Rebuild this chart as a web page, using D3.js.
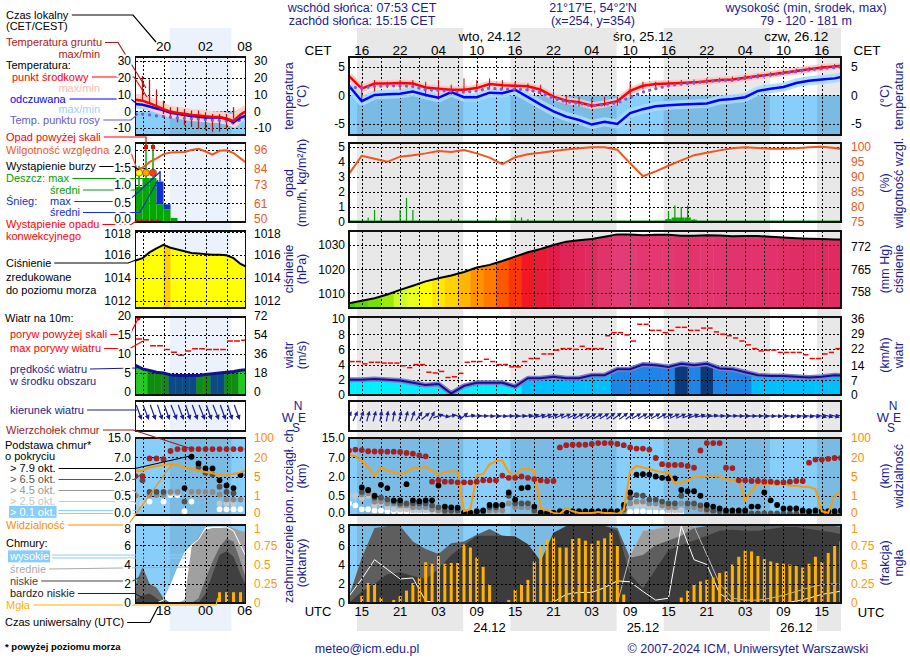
<!DOCTYPE html>
<html>
<head>
<meta charset="utf-8">
<title>Meteogram</title>
<script src="https://cdn.jsdelivr.net/npm/d3@7"></script>
<style>
  body { margin: 0; background: #fff; }
  svg text { font-family: "Liberation Sans", Arial, Helvetica, sans-serif; }
  .dot { stroke: #000; stroke-width: 1; stroke-dasharray: 2,2; shape-rendering: crispEdges; }
  .box { fill: none; stroke: #111; stroke-width: 1.2; shape-rendering: crispEdges; }
</style>
</head>
<body>
<svg id="chart" width="910" height="660"></svg>
<script>
"use strict";

// ---------- time axis (hours since 23.12 13:00 UTC = 14:00 CET) ----------
var nights = [[1.25, 17.88], [25.25, 41.88], [49.25, 65.88], [73.25, 77]];
var labelHours = [2, 8, 14, 20, 26, 32, 38, 44, 50, 56, 62, 68, 74];
var cetLabels = ["16","22","04","10","16","22","04","10","16","22","04","10","16"];
var utcLabels = ["15","21","03","09","15","21","03","09","15","21","03","09","15"];
var dayHours = [22, 46, 70];
var dayNames = ["wto, 24.12", "śro, 25.12", "czw, 26.12"];
var dayDates = ["24.12", "25.12", "26.12"];

// ---------- main series, every 2 h ----------
var tempMid = [3.4,1.2,2.1,2.1,2.2,2.1,1.4,1.2,1.0,1.0, 1.3,2.0,1.8,1.7,1.6,1.0,-0.2,-0.9,-1.2,-1.8,
  -1.5,-1.0,0.8,1.7,2.0,2.1,2.2,2.3,2.5,2.7, 2.8,3.1,3.4,3.7,4.0,4.3,4.6,4.9,5.1,5.3];
var tempFeel = [1.7,-1.0,0.1,0.2,0.3,0.7,0.1,-0.4,0.6,-0.3, -0.3,0.5,0.4,1.0,-0.3,-1.6,-2.8,-3.7,-4.3,-5.1,
  -4.6,-5.0,-3.1,-2.4,-1.9,-1.7,-1.6,-1.5,-1.4,-0.8, -0.6,-0.3,0.8,1.2,1.5,2.2,2.6,2.8,3.0,3.5];
var dewPoint = [1.5,1.3,1.6,1.7,1.7,1.6,1.0,0.9,0.7,0.6, 0.8,1.3,1.1,1.1,1.0,0.5,-0.5,-1.1,-1.4,-1.8,
  -1.6,-1.3,-0.3,0.6,1.2,1.7,2.0,2.2,2.4,2.6, 2.7,3.0,3.3,3.6,3.9,4.2,4.5,4.7,4.9,5.1];
var groundMax = [3.6,2.4,2.7,2.4,2.7,2.7,2.4,2.7,1.9,3.0, 2.7,3.0,2.7,2.4,2.1,1.9,0.7,0.1,-0.2,-0.5,
  -0.2,-0.2,2.4,2.4,2.4,2.6,2.7,2.8,3.0,3.1, 3.3,3.6,3.8,4.1,4.4,4.7,5.0,5.3,5.5,5.7];
var groundMin = [2.5,-0.75,0.7,1.3,1.0,1.3,-0.2,-0.75,0.1,1.1, 1.1,1.4,1.1,1.0,0.7,0.1,-1.0,-1.6,-1.9,-2.2,
  -1.9,-1.8,0.1,1.1,1.4,1.7,1.8,1.9,2.1,2.3, 2.4,2.7,3.0,3.3,3.6,3.9,4.2,4.5,4.7,4.9];
var humidity = [91,97,96,95,96.7,97.2,97.8,98.6,98.3,98.9, 97.8,96.4,94.2,96.5,97.5,98,98.6,99.1,99.5,99.8,
  99.8,99,94.5,90.2,91.8,93.7,95.5,97.2,98,98.8, 99.5,99.8,99.6,99.3,99.3,99.5,99.8,100,99.6,99];
var pressure = [1006,1007,1008,1009.6,1011.5,1013.2,1015,1016.3,1017.4,1018.9, 1020.7,1021.8,1023.4,1025.2,1027,1028.4,1030,1031.4,1032,1032.5,
  1033.4,1034.4,1034.4,1034,1034.2,1034.2,1033.8,1033.8,1034,1033.9, 1033.6,1033.7,1033.7,1033.4,1033.1,1032.8,1032.6,1032.5,1032.3,1032.2];
var windSpeed = [2.0,2.0,2.1,2.0,1.9,1.6,1.3,1.45,0.2,1.2, 1.6,1.6,1.6,1.1,2.2,2.2,2.4,2.2,2.2,2.6,
  2.6,3.4,3.4,4.0,3.9,3.7,4.1,3.9,4.1,3.5, 3.4,3.0,2.6,2.5,2.5,2.4,2.3,2.4,2.6,2.5];
var cloudHigh = [0.7,2.5,4.5,3.5,2.5,2.6,0.2,0,0,0, 0,0,0,0,0,0,0.1,0.9,1.1,1.1,
  1.6,2.3,2.2,1.2,0.3,0.5,8,4.5,4.0,1.0, 0.1,0,0,0,0,0.2,0.5,0.9,1.1,1.4];
var cloudMid = [0,0,0,0,0,0,0,0,0,0, 0,0,0,0,0,0,0,0,0,0,
  0,0,5.0,7.5,7.7,8,8,8,5,2, 0.5,0.3,0.3,0.5,0.8,1.2,1.6,1.9,2.0,1.8];
var cloudLow = [0.7,4.7,7.8,8,8,6.4,5.6,5.1,6.2,6.4, 7.1,7.7,7.0,6.9,6.1,4.35,7.0,7.5,7.8,8,
  8,7.8,4.7,5.0,6.0,6.5,7.0,7.8,8,8, 8,8,8,8,8,8,8,8,8,7.8];
var cloudVeryLow = [0,1.2,2.0,3.0,3.2,2.8,2.5,3.5,5.0,6.0, 7.0,7.0,7.0,6.9,6.1,4.35,7.3,8,8,8,
  8,7.5,3.0,1.5,3.5,5.5,6.0,6.5,7.0,7.5, 7.6,7.5,7.5,7.7,7.9,7.9,7.7,7.5,7.3,7.0];

// ---------- main series, hourly ----------
var precipMax = [[3,0.3],[4,0.8],[5,0.3],[8,0.8],[9,1.6],[10,0.8],[11,0.1],[16,0.2],[23,0.3],[26,0.3],[27,0.3],[28,0.2],
  [50,0.7],[51,1.1],[52,1.0],[53,1.1],[54,0.2],[70,0.08],[71,0.1],[72,0.08]];
var precipMean = [[50,0.2],[51,0.3],[52,0.3],[53,0.3],[54,0.15],[55,0.05],[70,0.05],[71,0.06],[72,0.05]];
var gusts = [4.4,4.4,4.1,4.3,4.3,4.2,4.2,4.2,3.85,3.6, 4.0,4.0,3.0,2.9,3.1,2.3,2.4,2.85,4.3,4.4,
  4.4,4.7,4.4,4.0,4.0,3.7,3.7,4.4,4.8,4.8, 5.4,5.4,5.9,6.1,6.1,6.0,6.4,6.1,6.1,6.1,
  7.8,8.2,8.2,7.9,7.1,9.3,9.3,8.5,8.5,8.2, 8.5,8.9,8.9,8.5,8.5,8.8,8.8,8.3,8.0,7.8,
  7.5,7.1,6.6,6.1,5.8,5.9,5.9,5.6,5.6,5.6, 5.6,5.3,4.8,4.8,5.4,5.6,6.1];
var windDir = [210,205,200,195,195,190,190,190,195,195, 200,215,230,210,250,280,260,290,230,260,
  265,270,275,275,275,270,270,265,260,255, 255,250,250,245,245,245,240,240,240,240,
  240,235,235,235,235,240,240,240,240,240, 245,245,245,250,250,255,260,260,265,265,
  265,270,270,270,270,275,275,275,275,280, 280,280,280,280,285,285,285,285];
var cloudTop = [9.8,10.2,10.0,9.5,9.4,9.4,9.3,9.3,9.2,8.8, 8.5,7.8,7.4,1.6,1.7,1.6,1.6,1.55,1.55,1.55,
  1.6,1.7,1.7,1.7,2.25,1.9,1.9,2.0,1.9,1.8, 1.7,1.65,1.65,11.1,12.0,12.2,12.2,12.2,12.5,12.9,
  12.9,12.9,12.5,12.0,11.1,10.6,10.6,10.2,6.8,5.2, 5.0,5.0,5.0,4.75,4.3,9.8,12.9,12.9,12.9,4.3,
  4.2,1.7,1.7,1.65,1.65,1.6,1.6,1.55,1.55,1.6, 1.65,1.65,5.6,6.4,6.4,6.6,6.8,6.8];
var baseOkt79 = [null,null,1.15,0.95,0.5,1.35,1.1,0.38,0.38,1.4, 0.38,0.36,0.38,0.38,1.3,0.22,0.2,0.19,0.06,0.06,
  0.1,0.12,0.26,0.26,0.26,0.76,0.4,1.1,1.15,0.22, 0.06,0.06,0.06,0.1,0.1,0.1,0.1,0.1,0.1,0.1,
  0.1,0.1,0.1,0.26,0.76,2.5,2.6,2.5,2.0,1.9, 1.85,1.85,0.95,0.85,0.85,0.5,0.26,0.22,0.17,0.12,
  0.12,0.12,0.12,0.22,0.22,0.76,0.38,0.26,0.17,0.17, 0.17,0.12,0.1,0.12,0.1,0.1,0.1,0.12];
var baseOkt65 = [null,null,0.8,0.9,0.45,0.45,0.4,0.35,0.3,0.3, 0.3,0.3,0.3,0.25,0.2,0.12,0.12,0.12,0.05,0.05,
  0.07,0.1,0.2,0.2,0.25,0.5,0.3,0.3,0.3,0.12, 0.05,0.05,0.05,0.05,0.05,0.05,0.05,0.05,0.05,0.05,
  0.05,0.05,0.05,0.15,0.45,0.55,0.5,0.4,0.4,0.35, 0.3,0.3,0.5,0.3,0.3,0.25,0.15,0.12,0.1,0.04,
  0.04,0.04,0.04,0.04,0.04,0.04,0.04,0.04,0.04,0.04, 0.04,0.04,0.04,0.04,0.04,0.04,0.04,0.04];
var baseOkt45 = [null,null,0.6,0.7,0.35,0.35,0.3,0.3,0.25,0.25, 0.2,0.2,0.2,0.15,0.12,0.08,0.08,0.08,0.03,0.03,
  0.03,0.03,0.12,0.12,0.12,0.3,0.2,0.2,0.2,0.06, null,null,null,null,null,null,null,null,null,null,
  null,null,null,0.1,0.3,0.35,0.35,0.3,0.3,0.25, 0.2,0.2,0.3,0.2,0.2,0.15,0.1,0.08,null,null,
  null,null,null,null,null,null,null,null,null,null, null,null,null,null,null,null,null,null];
var baseOkt25 = [0.55,0.5,0.45,0.5,0.25,0.3,0.2,0.15,0.15,0.15, 0.12,0.12,0.12,0.1,0.08,null,null,null,null,null,
  null,null,null,null,null,null,null,null,null,null, null,null,null,null,null,null,null,null,null,null,
  null,null,null,0.06,0.25,0.25,0.25,0.2,0.2,0.2, 0.12,0.12,0.12,null,null,null,null,null,null,null,
  null,null,null,null,null,null,null,null,null,null, null,null,null,null,null,null,null,null];
var baseOkt01 = [0.3,0.25,0.15,0.15,0.12,0.12,0.1,0.1,0.08,0.08, 0.06,0.06,0.06,0.05,0.04,null,null,null,null,null,
  null,null,null,null,null,null,null,null,null,null, null,null,null,null,null,null,null,null,null,null,
  null,null,null,0.03,0.08,0.1,0.1,0.08,0.08,0.06, 0.05,0.05,0.05,null,null,null,null,null,null,null,
  null,null,null,null,null,null,null,null,null,null, null,null,null,null,null,null,null,null];
var visibility = [31,24,17,12,5.8,12,9.5,8.3,7,8.3, 12,11.5,12.5,9.5,6.5,8.3,9,8.8,0.2,0.3,
  5.8,7,14.5,17,17.5,8.3,5,10.8,10.8,9.5, 0.34,0.25,0.11,0.06,0.34,0.19,0.11,0.11,0.11,0.15,
  0.11,0.11,0.06,0.25,9.5,13.3,12,10.8,9.5,8.3, 8.3,3.5,3.8,4.2,4.9,4.9,5.0,5.8,4.9,4.5,
  4.2,4.5,0.75,2.0,3.6,3.5,3.5,3.3,3.5,3.1, 3.1,2.8,2.8,2.4,0.19,0.11,1.0,2.0];
var fog = [[2,0.09],[3,0.26],[4,0.25],[5,0.07],[7,0.04],[8,0.09],[9,0.16],[10,0.26],[11,0.33],[12,0.53],[13,0.51],
  [14,0.61],[15,0.51],[16,0.52],[17,0.52],[18,0.76],[19,0.72],[20,0.59],[21,0.47],[22,0.24],[25,0.04],[26,0.17],
  [27,0.24],[28,0.3],[29,0.54],[30,0.74],[31,0.83],[32,0.85],[33,0.72],[34,0.72],[35,0.83],[36,0.84],[37,0.81],
  [38,0.77],[39,0.81],[40,0.84],[41,0.91],[42,0.74],[43,0.11],[52,0.07],[53,0.16],[54,0.24],[55,0.28],[56,0.3],
  [57,0.33],[58,0.39],[59,0.41],[60,0.5],[61,0.6],[62,0.68],[63,0.67],[64,0.61],[65,0.57],[66,0.54],[67,0.52],
  [68,0.51],[69,0.5],[70,0.48],[71,0.46],[72,0.51],[73,0.6],[74,0.53],[75,0.65],[76,0.74],[77,0.8]];

// ---------- legend sample (hours since 16:00 local) ----------
var miniNight = [4.9, 13.7];
var miniTopLabels = ["20", "02", "08"];
var miniBottomLabels = ["18", "00", "06"];
var miniLabelHours = [4, 10, 15.6];
var miniTemp = [6.9,6.3,4.8,3.0,1.2,-0.2,-1.0,-1.5,-2.2,-2.5,-3.0,-3.4,-3.5,-4.5,-5.8,-2.0,0.5];
var miniFeel = [4.3,3.9,2.8,1.6,0.6,-0.9,-1.5,-2.2,-2.9,-3.3,-3.8,-3.6,-3.8,-4.5,-6.6,-3.8,-2.5];
var miniDew = [-1.6,-1.8,-2.2,-2.8,-3.1,-3.5,-4.0,-4.2,-4.5,-4.8,-5.0,-5.3,-5.5,-5.8,-7.2,-5.0,-4.5];
var miniGround = [[1,21,6.3],[2,19,4.3],[3,13,2.4],[4,6.3,-1.6],[5,2.4,-4.5],[6,2.4,-6.5],[7,1.4,-8.4],
  [8,0.4,-9.4],[9,0.4,-10.4],[10,-0.6,-11.4],[11,-1.6,-12.3],[12,-1.6,-12.3],[13,-1.6,-10.4],[14,2.4,-4.5]];
var miniRH = [83,84.3,88,90.5,93.3,94.3,94.5,94.7,96,96.8,95,93,95.5,95.8,94,90.5,87];
var miniRain = [[0,0.95],[1,1.2],[2,1.2],[3,0.45],[4,0.3],[5,0.06]];
var miniRainMax = [[0,1.55],[1,2.4],[2,2.4]];
var miniSnow = [[3,0.45,1.1],[4,0.3,0.45]];
var miniSnowMax = [[3,1.1,1.4]];
var miniOverScale = [1, 2];
var miniStorm = [0, 1, 2];
var miniConvective = [0, 3.6];
var miniPres = [1015.5,1015.7,1016.2,1016.55,1016.85,1016.6,1016.45,1016.3,1016.15,1016.1,1016.05,1016.0,1016.0,1015.95,1015.7,1015.2,1014.9];
var miniWind = [6.9,6.0,5.6,5.1,4.9,4.4,4.25,4.25,4.25,4.25,4.5,4.7,4.9,5.1,5.3,5.6,5.8];
var miniWindClass = [0,0,1,1,1,2,2,2,2,1,1,2,2,1,1,0,0];
var miniGust = [13.9,13.7,12.1,12.1,11.1,10.4,9.6,10.7,11.3,11.3,11.1,11.1,11.1,13.4,13.4,13.6];
var miniGustOver = [0];
var miniDir = [340,338,340,342,340,338,340,342,340,338,340,338,340,342,340];
var miniTop = [2.1,2.1,6.7,6.7,6.5,9.6,10.4,10.4,10.4,10.4,10.4,10.4,10.4,10.4,10.4,10.4,10.4];
var miniBase79 = [[7,1.1],[8,7.2],[9,5.4],[10,4.1],[11,4.1],[12,1.7],[13,1.3],[14,1.1],[15,2.4],[16,2.4]];
var miniBase65 = [[1,1.7],[2,0.8],[3,0.8],[4,0.8],[7,0.35],[9,4.5],[10,3.0],[11,2.5],[12,1.2],[13,0.8],[14,0.7]];
var miniBase45 = [[0,0.5],[2,0.55],[3,0.55],[4,0.55],[5,0.8],[6,0.8],[8,0.8],[9,0.8],[10,0.8],[11,0.8],[12,0.6],[13,0.4],[14,0.4],[15,0.4]];
var miniBase25 = [[0,0.4],[1,0.3],[5,0.7],[6,0.7],[8,0.75],[9,0.75],[10,0.8],[12,0.3],[13,0.3],[14,0.3]];
var miniBase01 = [[1,0.3],[2,0.35],[4,0.35],[5,0.55],[6,0.55],[7,0.1],[8,0.35],[12,0.15],[13,0.15],[14,0.15],[15,0.15]];
var miniVis = [9.5,9.5,12,13,14,15,14,12,10.8,9.5,8.5,7.5,6.1,6.1,7,8.2,10.3];
var miniHigh = [0,0,0,0,0.3,1.8,3.6,5.2,6.0,6.6,7.8,7.9,7.9,7.9,7.5,6.0,4.5];
var miniMidC = [0,0,0,0,0,0,0,0.3,5.8,7.0,7.6,7.8,7.8,7.9,7.8,7.5,7.3];
var miniLowC = [1.9,3.8,2.0,1.6,0.5,0,0,0,0,0.5,2.5,4.3,5.8,6.7,6.4,4.3,2.0];
var miniVeryLowC = [0.3,0.8,1.0,0.5,0,0,0,0,0,0,1.0,3.0,5.0,5.4,4.8,3.0,1.5];
var miniFog = [[12,0.14],[13,0.14],[14,0.14],[15,0.14]];

// ---------- layout ----------
var svg = d3.select("#chart");
var defs = svg.append("defs");
var NAVY = "#1c1c90";
var SKY = "#87cefa";
var X0 = 349, X1 = 841, M0 = 135.5, M1 = 245.5;
var rows = { temp: [57,135], prec: [143,222], pres: [231,308], wind: [317,395], dir: [401,431], cbase: [438,515], ccov: [525,603] };

var x = d3.scaleLinear().domain([0, 77]).range([X0, X1]);
var mx = d3.scaleLinear().domain([0, 15.71]).range([M0, M1]);
var hours2 = d3.range(0, 79, 2);
var hours1 = d3.range(0, 78);
var hoursM = d3.range(0, 17);
var gridMain = d3.range(2, 77, 3);
var gridMini = [1, 4, 7, 10, 13];

var yT = d3.scaleLinear().domain([-6.93, 6.75]).range([135, 57]);
var yP = d3.scaleLinear().domain([0, 5.25]).range([222, 143]);
var yRH = d3.scaleLinear().domain([75, 101.25]).range([222, 143]);
var yPr = d3.scaleLinear().domain([1004.0, 1035.8]).range([308, 231]);
var yPrMm = d3.scaleLinear().domain([1004.0 / 1.33322, 1035.8 / 1.33322]).range([308, 231]);
var yW = d3.scaleLinear().domain([0, 10.26]).range([395, 317]);
var yWkm = d3.scaleLinear().domain([0, 10.26 * 3.6]).range([395, 317]);
var cbRange = [515, 495.75, 476.5, 457.25, 438];
var yCB = d3.scaleLinear().domain([0, 0.5, 2, 7, 15]).range(cbRange);
var yVis = d3.scaleLinear().domain([0, 1, 5, 20, 100]).range(cbRange).clamp(true);
var yCC = d3.scaleLinear().domain([0, 8]).range([603, 526]);
var yFog = d3.scaleLinear().domain([0, 1]).range([603, 526]);

var myT = d3.scaleLinear().domain([-10, 30]).range([128, 61]);
var myP = d3.scaleLinear().domain([0, 2]).range([220, 150]);
var myRH = d3.scaleLinear().domain([50, 96]).range([220, 150]);
var myPr = d3.scaleLinear().domain([1012, 1018]).range([300.7, 231.7]);
var myW = d3.scaleLinear().domain([0, 20]).range([391.5, 316]);
var myWkm = d3.scaleLinear().domain([0, 72]).range([391.5, 316]);

var presColor = d3.scaleLinear()
  .domain([1005, 1009, 1012, 1015, 1018, 1021, 1024, 1027, 1030, 1033, 1035])
  .range(["#28c800","#8fe600","#dcff30","#ffff00","#ffc800","#ff8c00","#ff4a00","#f01824","#e21c48","#e02e68","#e4407a"]);
var windColor = d3.scaleThreshold().domain([2.15, 3.0, 4.05]).range(["#00f0ff","#00bfff","#1d85e6","#0a3b78"]);
var miniWindPalette = ["#20c820", "#108c10", "#0c4a86"];

// ---------- helpers ----------
var clipN = 0;
function clip(x0, x1, y0, y1) {
  var id = "clip" + (clipN++);
  defs.append("clipPath").attr("id", id).append("rect")
    .attr("x", x0).attr("y", y0).attr("width", x1 - x0).attr("height", y1 - y0);
  return "url(#" + id + ")";
}
function pathOf(xs, hrs, ys, vals) {
  return d3.line().defined(function(d) { return d != null; })
    .x(function(d, i) { return xs(hrs[i]); }).y(function(d) { return ys(d); })(vals);
}
function areaOf(xs, hrs, ys, vals, base) {
  return d3.area().x(function(d, i) { return xs(hrs[i]); }).y0(base).y1(function(d) { return ys(d); })(vals);
}
function sky(g, xs, x0, x1, y0, y1, nightList) {
  g.append("rect").attr("x", x0).attr("y", y0).attr("width", x1 - x0).attr("height", y1 - y0).attr("fill", SKY);
  nightList.forEach(function(n) {
    var a = Math.max(xs(n[0]), x0), b = Math.min(xs(n[1]), x1);
    g.append("rect").attr("x", a).attr("y", y0).attr("width", b - a).attr("height", y1 - y0)
      .attr("fill", "#000").attr("opacity", 0.09);
  });
}
function grid(g, xs, hrs, row, ys, vals, x0, x1) {
  hrs.forEach(function(h) {
    g.append("line").attr("class", "dot").attr("x1", Math.round(xs(h)) + 0.5).attr("x2", Math.round(xs(h)) + 0.5)
      .attr("y1", row[0]).attr("y2", row[1]);
  });
  vals.forEach(function(v) {
    g.append("line").attr("class", "dot").attr("x1", x0).attr("x2", x1)
      .attr("y1", Math.round(ys(v)) + 0.5).attr("y2", Math.round(ys(v)) + 0.5);
  });
}
function box(x0, x1, row) {
  svg.append("rect").attr("class", "box").attr("x", x0).attr("y", row[0]).attr("width", x1 - x0).attr("height", row[1] - row[0]);
}
// shift: optional {value: px} nudge for labels sitting on a panel edge
function axis(scale, side, xpos, values, color, fmt, halo, shift) {
  var ax = (side === "L" ? d3.axisLeft(scale) : d3.axisRight(scale))
    .tickValues(values).tickSize(0).tickPadding(0)
    .tickFormat(fmt || function(d) { return String(d); });
  var a = svg.append("g").attr("transform", "translate(" + xpos + ",0)").call(ax);
  a.attr("font-size", 12).attr("font-family", null);
  a.select(".domain").remove();
  a.selectAll(".tick line").remove();
  var t = a.selectAll("text").attr("fill", color || "#000");
  if (shift) t.attr("y", function(d) { return shift[d] || 0; });
  if (halo) t.attr("stroke", "#fff").attr("stroke-width", 4).attr("stroke-linejoin", "round").attr("paint-order", "stroke");
}
function dotsArr(g, xs, hrs, ys, vals, fill, r) {
  vals.forEach(function(v, i) {
    if (v == null) return;
    g.append("circle").attr("cx", xs(hrs[i])).attr("cy", ys(v)).attr("r", r).attr("fill", fill);
  });
}
function dotsPairs(g, xs, ys, pairs, fill, r) {
  pairs.forEach(function(p) {
    g.append("circle").attr("cx", xs(p[0])).attr("cy", ys(p[1])).attr("r", r).attr("fill", fill);
  });
}
function arrow(g, cx, cy, from, len, head, color) {
  var a = (from + 180) * Math.PI / 180;
  var ux = Math.sin(a), uy = -Math.cos(a);
  var x1 = cx - ux * len / 2, y1 = cy - uy * len / 2, x2 = cx + ux * len / 2, y2 = cy + uy * len / 2;
  g.append("line").attr("x1", x1).attr("y1", y1).attr("x2", x2 - ux * head * 0.6).attr("y2", y2 - uy * head * 0.6)
    .attr("stroke", color).attr("stroke-width", 1.2);
  var bx = x2 - ux * head, by = y2 - uy * head, w = head * 0.5;
  g.append("path").attr("d", "M" + x2 + "," + y2 + "L" + (bx - uy * w) + "," + (by + ux * w) + "L" + (bx + uy * w) + "," + (by - ux * w) + "Z")
    .attr("fill", color);
}
function text(t, xp, yp, opt) {
  opt = opt || {};
  return svg.append("text").attr("x", xp).attr("y", yp).text(t)
    .attr("font-size", opt.size || 12).attr("fill", opt.color || "#000")
    .attr("text-anchor", opt.anchor || "start")
    .attr("font-weight", opt.weight || null)
    .attr("dy", opt.dy == null ? "0.35em" : opt.dy);
}
function vtext(t, xp, yp, color, anchor, clipPath) {
  var el = svg.append("text").attr("transform", "translate(" + xp + "," + yp + ") rotate(-90)")
    .attr("text-anchor", anchor || "middle").attr("dominant-baseline", "central")
    .attr("font-size", 12.5).attr("fill", color).text(t);
  if (clipPath) {
    var g = svg.append("g").attr("clip-path", clipPath);
    g.node().appendChild(el.node());
  }
}

// ---------- background night bands ----------
var bg = svg.append("g");
nights.forEach(function(n) {
  bg.append("rect").attr("x", x(n[0])).attr("y", 28).attr("width", x(n[1]) - x(n[0])).attr("height", 603).attr("fill", "#e8e8e8");
});
bg.append("rect").attr("x", mx(miniNight[0])).attr("y", 28).attr("width", mx(miniNight[1]) - mx(miniNight[0]))
  .attr("height", 603).attr("fill", "#ebf2fc");

// =================== MAIN PANELS ===================
// temperature
var gT = svg.append("g").attr("clip-path", clip(X0, X1, 57, 135));
sky(gT, x, X0, X1, yT(0), 135, nights);
grid(gT, x, gridMain, rows.temp, yT, [5, 0, -5], X0, X1);
gT.append("path").attr("d", pathOf(x, hours2, yT, tempFeel)).attr("fill", "none").attr("stroke", "#a8dcff").attr("stroke-width", 9).attr("stroke-linejoin", "round").attr("opacity", 0.9);
gT.append("path").attr("d", pathOf(x, hours2, yT, tempMid)).attr("fill", "none").attr("stroke", "#ffc6c6").attr("stroke-width", 7).attr("stroke-linejoin", "round").attr("opacity", 0.9);
hours2.forEach(function(h, i) {
  gT.append("line").attr("x1", x(h)).attr("x2", x(h)).attr("y1", yT(groundMax[i])).attr("y2", yT(groundMin[i]))
    .attr("stroke", "#cc0000").attr("stroke-width", 1);
});
gT.append("path").attr("d", pathOf(x, hours2, yT, tempFeel)).attr("fill", "none").attr("stroke", "#0000ff").attr("stroke-width", 2.5);
gT.append("path").attr("d", pathOf(x, hours2, yT, tempMid)).attr("fill", "none").attr("stroke", "#ff0000").attr("stroke-width", 2.5);
gT.append("path").attr("d", pathOf(x, hours2, yT, dewPoint)).attr("fill", "none").attr("stroke", "#7060e0")
  .attr("stroke-width", 3.2).attr("stroke-linecap", "round").attr("stroke-dasharray", "0.1,6.29");
box(X0, X1, rows.temp);

// precipitation + humidity
var gP = svg.append("g").attr("clip-path", clip(X0, X1, 143, 222));
grid(gP, x, gridMain, rows.prec, yP, [1, 2, 3, 4, 5], X0, X1);
precipMean.forEach(function(p) {
  gP.append("rect").attr("x", x(p[0] - 0.5)).attr("width", x(1) - x(0)).attr("y", yP(p[1])).attr("height", yP(0) - yP(p[1])).attr("fill", "#00b400");
});
precipMax.forEach(function(p) {
  gP.append("line").attr("x1", x(p[0])).attr("x2", x(p[0])).attr("y1", yP(0)).attr("y2", yP(p[1])).attr("stroke", "#00a000").attr("stroke-width", 1.2);
});
gP.append("line").attr("x1", X0).attr("x2", X1).attr("y1", 221).attr("y2", 221).attr("stroke", "#00a000").attr("stroke-width", 1);
gP.append("path").attr("d", pathOf(x, hours2, yRH, humidity)).attr("fill", "none").attr("stroke", "#f0561e").attr("stroke-width", 2);
box(X0, X1, rows.prec);

// pressure
var gPr = svg.append("g").attr("clip-path", clip(X0, X1, 231, 308));
defs.append("clipPath").attr("id", "prArea").append("path").attr("d", areaOf(x, hours2, yPr, pressure, 308));
var prCols = gPr.append("g").attr("clip-path", "url(#prArea)");
pressure.forEach(function(v, i) {
  prCols.append("rect").attr("x", x(hours2[i] - 1)).attr("width", x(2) - x(0) + 0.4).attr("y", 231).attr("height", 77).attr("fill", presColor(v));
});
grid(gPr, x, gridMain, rows.pres, yPr, [1010, 1020, 1030], X0, X1);
gPr.append("path").attr("d", pathOf(x, hours2, yPr, pressure)).attr("fill", "none").attr("stroke", "#000").attr("stroke-width", 2);
box(X0, X1, rows.pres);

// wind speed + gusts
var gW = svg.append("g").attr("clip-path", clip(X0, X1, 317, 395));
defs.append("clipPath").attr("id", "wArea").append("path").attr("d", areaOf(x, hours2, yW, windSpeed, 395));
var wCols = gW.append("g").attr("clip-path", "url(#wArea)");
windSpeed.forEach(function(v, i) {
  wCols.append("rect").attr("x", x(hours2[i] - 1)).attr("width", x(2) - x(0) + 0.4).attr("y", 317).attr("height", 78).attr("fill", windColor(v));
});
grid(gW, x, gridMain, rows.wind, yW, [2, 4, 6, 8], X0, X1);
gW.append("path").attr("d", pathOf(x, hours2, yW, windSpeed)).attr("fill", "none").attr("stroke", "#7c7cd0").attr("stroke-width", 5).attr("stroke-linejoin", "round");
gW.append("path").attr("d", pathOf(x, hours2, yW, windSpeed)).attr("fill", "none").attr("stroke", "#12128c").attr("stroke-width", 2);
gusts.forEach(function(v, h) {
  gW.append("line").attr("x1", x(h) + 0.6).attr("x2", x(h + 1) - 0.6).attr("y1", yW(v)).attr("y2", yW(v)).attr("stroke", "#ff0000").attr("stroke-width", 1.5);
});
box(X0, X1, rows.wind);

// wind direction
var gD = svg.append("g").attr("clip-path", clip(X0, X1, 401, 431));
grid(gD, x, gridMain, rows.dir, null, [], X0, X1);
windDir.forEach(function(d, h) { arrow(gD, x(h), 416, d, 11, 4.5, "#1e1e9a"); });
box(X0, X1, rows.dir);

// cloud base / tops / visibility
var gB = svg.append("g").attr("clip-path", clip(X0, X1, 438, 515));
sky(gB, x, X0, X1, 438, 515, nights);
grid(gB, x, gridMain, rows.cbase, yCB, [0.5, 2, 7], X0, X1);
dotsArr(gB, x, hours1, yCB, baseOkt01, "#ffffff", 2.9);
dotsArr(gB, x, hours1, yCB, baseOkt25, "#c8c8c8", 2.9);
dotsArr(gB, x, hours1, yCB, baseOkt45, "#8c8c8c", 2.9);
dotsArr(gB, x, hours1, yCB, baseOkt65, "#505050", 2.9);
dotsArr(gB, x, hours1, yCB, baseOkt79, "#000000", 2.9);
gB.append("path").attr("d", pathOf(x, hours1, yVis, visibility)).attr("fill", "none").attr("stroke", "#ff9a00").attr("stroke-width", 2);
dotsArr(gB, x, hours1, yCB, cloudTop, "#a52222", 2.9);
box(X0, X1, rows.cbase);

// cloud cover + fog
var gC = svg.append("g").attr("clip-path", clip(X0, X1, 525, 603));
sky(gC, x, X0, X1, 525, 603, nights);
gC.append("path").attr("d", areaOf(x, hours2, yCC, cloudHigh, 603)).attr("fill", "#ffffff");
gC.append("path").attr("d", areaOf(x, hours2, yCC, cloudMid, 603)).attr("fill", "#9c9c9c");
gC.append("path").attr("d", areaOf(x, hours2, yCC, cloudLow, 603)).attr("fill", "#5e5e5e");
gC.append("path").attr("d", areaOf(x, hours2, yCC, cloudVeryLow, 603)).attr("fill", "#3c3c3c");
gC.append("path").attr("d", pathOf(x, hours2, yCC, cloudMid)).attr("fill", "none").attr("stroke", "#b8b8b8").attr("stroke-width", 1);
gC.append("path").attr("d", pathOf(x, hours2, yCC, cloudHigh)).attr("fill", "none").attr("stroke", "#ffffff").attr("stroke-width", 1);
fog.forEach(function(p) {
  gC.append("rect").attr("x", x(p[0]) - 1.5).attr("width", 3).attr("y", yFog(p[1])).attr("height", yFog(0) - yFog(p[1])).attr("fill", "#ffb000");
});
grid(gC, x, gridMain, rows.ccov, yCC, [2, 4, 6], X0, X1);
box(X0, X1, rows.ccov);

// main axes
var fmt1 = d3.format(".1f");
var lowEdge = { 0: -2.5 }, topEdgeCC = { 8: 3 }, topEdgeFog = { 1: 3 };
axis(yT, "L", 345, [5, 0, -5]);
axis(yT, "R", 851, [5, 0, -5]);
axis(yP, "L", 345, [0, 1, 2, 3, 4, 5]);
axis(yRH, "R", 851, [75, 80, 85, 90, 95, 100], "#f0561e");
axis(yPr, "L", 345, [1010, 1020, 1030]);
axis(yPrMm, "R", 851, [758, 765, 772]);
axis(yW, "L", 345, [0, 2, 4, 6, 8, 10]);
axis(yWkm, "R", 851, [0, 7, 14, 22, 29, 36]);
axis(yCB, "L", 345, [0, 0.5, 2, 7, 15], "#000", fmt1, false, lowEdge);
axis(yVis, "R", 851, [0, 1, 5, 20, 100], "#ff8c00", null, false, lowEdge);
axis(yCC, "L", 345, [0, 2, 4, 6, 8], "#000", null, false, topEdgeCC);
axis(yFog, "R", 851, [0, 0.25, 0.5, 0.75, 1], "#ff9a00", null, false, topEdgeFog);

// time labels
text("CET", 318, 50, { size: 13.5, anchor: "middle" });
text("CET", 867, 50, { size: 13.5, anchor: "middle" });
text("UTC", 318, 611, { size: 13, anchor: "middle" });
text("UTC", 871, 612, { size: 13, anchor: "middle" });
labelHours.forEach(function(h, i) {
  text(cetLabels[i], x(h), 50, { size: 13.5, anchor: "middle" });
  text(utcLabels[i], x(h), 611, { size: 13, anchor: "middle" });
});
dayHours.forEach(function(h, i) {
  var cx = Math.min(x(h), X1 - 32);
  text(dayNames[i], cx, 36, { size: 13.5, anchor: "middle" });
  text(dayDates[i], cx, 627, { size: 13, anchor: "middle" });
});

// header + footer
text("wschód słońca: 07:53 CET", 362, 8, { size: 12.5, anchor: "middle", color: NAVY });
text("zachód słońca: 15:15 CET", 362, 21, { size: 12.5, anchor: "middle", color: NAVY });
text("21°17'E, 54°2'N", 593, 8, { size: 12.5, anchor: "middle", color: NAVY });
text("(x=254,  y=354)", 593, 21, { size: 12.5, anchor: "middle", color: NAVY });
text("wysokość (min, środek, max)", 806, 8, { size: 12.5, anchor: "middle", color: NAVY });
text("79 - 120 - 181 m", 806, 21, { size: 12.5, anchor: "middle", color: NAVY });
text("meteo@icm.edu.pl", 367, 649, { size: 12.5, anchor: "middle", color: NAVY });
text("© 2007-2024 ICM, Uniwersytet Warszawski", 748, 649, { size: 12.5, anchor: "middle", color: NAVY });

// side titles
vtext("temperatura", 289, 96, NAVY); vtext("(°C)", 302, 96, NAVY);
vtext("opad", 289, 183, NAVY); vtext("(mm/h, kg/m²/h)", 302, 183, NAVY);
vtext("ciśnienie", 289, 269, NAVY); vtext("(hPa)", 302, 269, NAVY);
vtext("wiatr", 289, 355, NAVY); vtext("(m/s)", 302, 355, NAVY);
vtext("pion. rozciągł. chmur", 289, 523, NAVY, "start", clip(270, 296, 430, 640));
vtext("(km)", 302, 476, NAVY);
vtext("zachmurzenie", 289, 564, NAVY); vtext("(oktanty)", 302, 563, NAVY);
vtext("(°C)", 885, 96, NAVY); vtext("temperatura", 899, 96, NAVY);
vtext("(%)", 885, 183, NAVY); vtext("wilgotność wzgl.", 899, 183, NAVY);
vtext("(mm Hg)", 885, 269, NAVY); vtext("ciśnienie", 899, 269, NAVY);
vtext("(km/h)", 885, 355, NAVY); vtext("wiatr", 899, 355, NAVY);
vtext("(km)", 885, 476, NAVY); vtext("widzialność", 899, 476, NAVY);
vtext("(frakcja)", 885, 563, NAVY); vtext("mgła", 899, 563, NAVY);
[[288, 302, 298, 296], [883, 897, 893, 891]].forEach(function(c) {
  text("W", c[0], 417, { size: 13, anchor: "middle", color: NAVY });
  text("N", c[2], 406, { size: 12, anchor: "middle", color: NAVY });
  text("E", c[1], 418, { size: 12, anchor: "middle", color: NAVY });
  text("S", c[3], 428, { size: 12, anchor: "middle", color: NAVY });
});

// =================== LEGEND SAMPLE (left) ===================
// temperature
var mT = svg.append("g").attr("clip-path", clip(M0, M1, 57, 135));
sky(mT, mx, M0, M1, myT(0), 135, [miniNight]);
grid(mT, mx, gridMini, rows.temp, myT, [30, 20, 10, 0, -10], M0, M1);
mT.append("path").attr("d", pathOf(mx, hoursM, myT, miniFeel)).attr("fill", "none").attr("stroke", "#a8dcff").attr("stroke-width", 9);
mT.append("path").attr("d", pathOf(mx, hoursM, myT, miniTemp)).attr("fill", "none").attr("stroke", "#ffd2c8").attr("stroke-width", 12);
miniGround.forEach(function(g) {
  mT.append("line").attr("x1", mx(g[0])).attr("x2", mx(g[0])).attr("y1", myT(g[1])).attr("y2", myT(g[2])).attr("stroke", "#b01818").attr("stroke-width", 1.3);
});
mT.append("path").attr("d", pathOf(mx, hoursM, myT, miniDew)).attr("fill", "none").attr("stroke", "#7060e0")
  .attr("stroke-width", 3.2).attr("stroke-linecap", "round").attr("stroke-dasharray", "0.1,6.9");
mT.append("path").attr("d", pathOf(mx, hoursM, myT, miniFeel)).attr("fill", "none").attr("stroke", "#0000ff").attr("stroke-width", 2.5);
mT.append("path").attr("d", pathOf(mx, hoursM, myT, miniTemp)).attr("fill", "none").attr("stroke", "#ff0000").attr("stroke-width", 2.5);
box(M0, M1, rows.temp);

// precipitation
var mP = svg.append("g").attr("clip-path", clip(M0, M1, 143, 222));
grid(mP, mx, gridMini, rows.prec, myP, [0.5, 1, 1.5, 2], M0, M1);
miniRain.forEach(function(p) {
  mP.append("rect").attr("x", mx(p[0])).attr("width", mx(1) - mx(0)).attr("y", myP(p[1])).attr("height", 222 - myP(p[1])).attr("fill", "#00a800");
});
miniSnow.forEach(function(p) {
  mP.append("rect").attr("x", mx(p[0])).attr("width", mx(1) - mx(0)).attr("y", myP(p[2])).attr("height", myP(p[1]) - myP(p[2])).attr("fill", "#1030d0");
});
miniSnowMax.forEach(function(p) {
  mP.append("line").attr("x1", mx(p[0] + 0.5)).attr("x2", mx(p[0] + 0.5)).attr("y1", myP(p[1])).attr("y2", myP(p[2])).attr("stroke", "#1030d0").attr("stroke-width", 1.5);
});
miniRainMax.forEach(function(p) {
  mP.append("line").attr("x1", mx(p[0] + 0.5)).attr("x2", mx(p[0] + 0.5)).attr("y1", 222).attr("y2", myP(p[1])).attr("stroke", "#00a800").attr("stroke-width", 1.5);
});
miniOverScale.forEach(function(h) {
  mP.append("rect").attr("x", mx(h + 0.5) - 2).attr("y", 145).attr("width", 4).attr("height", 4).attr("fill", "#ff0000");
});
var stormFill = ["#ffff00", "#ffa500", "#ff3b1f"];
miniStorm.forEach(function(h, i) {
  mP.append("circle").attr("cx", mx(h + 0.5)).attr("cy", myP(1.35)).attr("r", 3.5).attr("fill", stormFill[i]).attr("stroke", "#8a4a00").attr("stroke-width", 0.8);
});
mP.append("line").attr("x1", mx(miniConvective[0])).attr("x2", mx(miniConvective[1])).attr("y1", 220.5).attr("y2", 220.5)
  .attr("stroke", "#ff0000").attr("stroke-width", 2).attr("stroke-dasharray", "3,2");
mP.append("path").attr("d", pathOf(mx, hoursM, myRH, miniRH)).attr("fill", "none").attr("stroke", "#f0561e").attr("stroke-width", 2);
box(M0, M1, rows.prec);

// pressure
var mPr = svg.append("g").attr("clip-path", clip(M0, M1, 231, 308));
defs.append("clipPath").attr("id", "mPrArea").append("path").attr("d", areaOf(mx, hoursM, myPr, miniPres, 308));
var mPrCols = mPr.append("g").attr("clip-path", "url(#mPrArea)");
miniPres.forEach(function(v, i) {
  mPrCols.append("rect").attr("x", mx(hoursM[i])).attr("width", mx(1) - mx(0) + 0.4).attr("y", 231).attr("height", 77)
    .attr("fill", v > 1016.75 ? "#ffcc00" : "#ffff00");
});
grid(mPr, mx, gridMini, rows.pres, myPr, [1012, 1014, 1016, 1018], M0, M1);
mPr.append("path").attr("d", pathOf(mx, hoursM, myPr, miniPres)).attr("fill", "none").attr("stroke", "#000").attr("stroke-width", 2);
box(M0, M1, rows.pres);

// wind
var mW = svg.append("g").attr("clip-path", clip(M0, M1, 317, 395));
defs.append("clipPath").attr("id", "mWArea").append("path").attr("d", areaOf(mx, hoursM, myW, miniWind, 395));
var mWCols = mW.append("g").attr("clip-path", "url(#mWArea)");
miniWind.forEach(function(v, i) {
  mWCols.append("rect").attr("x", mx(hoursM[i] - 0.3)).attr("width", mx(1) - mx(0) + 0.4).attr("y", 317).attr("height", 78)
    .attr("fill", miniWindPalette[miniWindClass[i]]);
});
grid(mW, mx, gridMini, rows.wind, myW, [5, 10, 15], M0, M1);
mW.append("path").attr("d", pathOf(mx, hoursM, myW, miniWind)).attr("fill", "none").attr("stroke", "#12128c").attr("stroke-width", 3);
miniGust.forEach(function(v, h) {
  mW.append("line").attr("x1", mx(h) + 0.6).attr("x2", mx(h + 1) - 0.6).attr("y1", myW(v)).attr("y2", myW(v)).attr("stroke", "#ff0000").attr("stroke-width", 1.5);
});
miniGustOver.forEach(function(h) {
  mW.append("circle").attr("cx", mx(h + 0.4)).attr("cy", 318.5).attr("r", 2).attr("fill", "#ff0000");
});
box(M0, M1, rows.wind);

// wind direction
var mD = svg.append("g").attr("clip-path", clip(M0, M1, 401, 431));
grid(mD, mx, gridMini, rows.dir, null, [], M0, M1);
miniDir.forEach(function(d, h) { arrow(mD, mx(h + 0.5), 412.5, d, 16, 5, "#1e1e9a"); });
box(M0, M1, rows.dir);

// cloud base
var mB = svg.append("g").attr("clip-path", clip(M0, M1, 438, 515));
sky(mB, mx, M0, M1, 438, 515, [miniNight]);
grid(mB, mx, gridMini, rows.cbase, yCB, [0.5, 2, 7], M0, M1);
dotsPairs(mB, mx, yCB, miniBase01, "#ffffff", 2.9);
dotsPairs(mB, mx, yCB, miniBase25, "#c8c8c8", 2.9);
dotsPairs(mB, mx, yCB, miniBase45, "#8c8c8c", 2.9);
dotsPairs(mB, mx, yCB, miniBase65, "#505050", 2.9);
dotsPairs(mB, mx, yCB, miniBase79, "#000000", 2.9);
mB.append("path").attr("d", pathOf(mx, hoursM, yVis, miniVis)).attr("fill", "none").attr("stroke", "#ff9a00").attr("stroke-width", 2);
dotsArr(mB, mx, hoursM, yCB, miniTop, "#a52222", 2.9);
box(M0, M1, rows.cbase);

// cloud cover
var mC = svg.append("g").attr("clip-path", clip(M0, M1, 525, 603));
sky(mC, mx, M0, M1, 525, 603, [miniNight]);
mC.append("path").attr("d", areaOf(mx, hoursM, yCC, miniHigh, 603)).attr("fill", "#ffffff");
mC.append("path").attr("d", areaOf(mx, hoursM, yCC, miniMidC, 603)).attr("fill", "#a0a0a0");
mC.append("path").attr("d", areaOf(mx, hoursM, yCC, miniLowC, 603)).attr("fill", "#686868");
mC.append("path").attr("d", areaOf(mx, hoursM, yCC, miniVeryLowC, 603)).attr("fill", "#404040");
mC.append("path").attr("d", pathOf(mx, hoursM, yCC, miniHigh)).attr("fill", "none").attr("stroke", "#ffffff").attr("stroke-width", 1);
miniFog.forEach(function(p) {
  mC.append("rect").attr("x", mx(p[0]) - 1.5).attr("width", 3).attr("y", yFog(p[1])).attr("height", yFog(0) - yFog(p[1])).attr("fill", "#ffb000");
});
grid(mC, mx, gridMini, rows.ccov, yCC, [2, 4, 6], M0, M1);
box(M0, M1, rows.ccov);

// leader lines go under the sample's tick labels, which mask them
var leaderG = svg.append("g");

// legend sample axes
axis(myT, "L", 131, [30, 20, 10, 0, -10], "#000", null, true);
axis(myT, "R", 254, [30, 20, 10, 0, -10]);
axis(myP, "L", 131, [0, 0.5, 1, 1.5, 2], "#000", fmt1, true, { 0: -1.5 });
axis(myRH, "R", 254, [50, 61, 73, 84, 96], "#f0561e", null, false, { 50: -1.5 });
axis(myPr, "L", 131, [1012, 1014, 1016, 1018], "#000", null, true, { 1018: 1.5 });
axis(myPr, "R", 254, [1012, 1014, 1016, 1018], "#000", null, false, { 1018: 1.5 });
axis(myW, "L", 131, [0, 5, 10, 15, 20], "#000", null, true);
axis(myWkm, "R", 254, [0, 18, 36, 54, 72]);
axis(yCB, "L", 131, [0, 0.5, 2, 7, 15], "#000", fmt1, true, lowEdge);
axis(yVis, "R", 254, [0, 1, 5, 20, 100], "#ff8c00", null, false, lowEdge);
axis(yCC, "L", 131, [0, 2, 4, 6, 8], "#000", null, true, topEdgeCC);
axis(yFog, "R", 254, [0, 0.25, 0.5, 0.75, 1], "#ff9a00", null, false, topEdgeFog);
miniLabelHours.forEach(function(h, i) {
  text(miniTopLabels[i], mx(h), 46, { size: 13.5, anchor: "middle" });
  text(miniBottomLabels[i], mx(h), 610, { size: 13.5, anchor: "middle" });
});

// legend texts: [text, x, y, colour, anchor, background, leader points after the text]
var legendText = [
  ["Czas lokalny", 6, 15, "#000", null, null, [[133,15],[156,42]]],
  ["(CET/CEST)", 6, 26, "#000"],
  ["Temperatura gruntu", 6, 42.5, "#b01818", null, null, [[118,42.5],[146,88]]],
  ["max/min", 100, 54.5, "#b01818", "end"],
  ["Temperatura:", 6, 65, "#000"],
  ["punkt środkowy", 12, 77, "#ff0000", null, null, [[134,77],[147,97]]],
  ["max/min", 100, 88, "#ffbcb0", "end"],
  ["odczuwana", 10, 99, "#0000ff", null, null, [[131,99],[137,104]]],
  ["max/min", 100, 109, "#98d4ff", "end"],
  ["Temp. punktu rosy", 10, 120, "#6a5acd", null, null, [[131,120],[138,114]]],
  ["Opad powyżej skali", 6, 137, "#ff0000", null, null, [[146,137],[146,146]]],
  ["Wilgotność względna", 6, 150, "#f0561e", null, null, [[130,150],[137,169]]],
  ["Wystąpienie burzy", 6, 166.5, "#000", null, null, [[134,166.5],[139,170]]],
  ["Deszcz: max", 6, 178.5, "#00a000", null, null, [[146,178.5]]],
  ["średni", 50, 190, "#00a000", null, null, [[157,190]]],
  ["Śnieg:", 6, 201.5, "#1030d0"],
  ["max", 50, 201.5, "#1030d0", null, null, [[128,201.5],[160,172]]],
  ["średni", 50, 212.5, "#1030d0", null, null, [[140,212.5],[158,180]]],
  ["Wystąpienie opadu", 6, 224.5, "#ff0000", null, null, [[131,224.5],[138,220]]],
  ["konwekcyjnego", 6, 236, "#ff0000"],
  ["Ciśnienie", 6, 263, "#000", null, null, [[128,263],[136,260]]],
  ["zredukowane", 6, 277, "#000"],
  ["do poziomu morza", 6, 290, "#000"],
  ["Wiatr na 10m:", 5, 318.5, "#000"],
  ["poryw powyżej skali", 10, 334.5, "#ff0000", null, null, [[130,334.5],[138,319]]],
  ["max porywy wiatru", 10, 348.5, "#ff0000", null, null, [[130,348.5],[143,341]]],
  ["prędkość wiatru", 10, 369, NAVY, null, null, [[137,368]]],
  ["w środku obszaru", 10, 381, NAVY],
  ["kierunek wiatru", 10, 410, NAVY, null, null, [[137,410]]],
  ["Wierzchołek chmur", 6, 430, "#a01c1c", null, null, [[133,430],[192,449]]],
  ["Podstawa chmur*", 5, 445, "#000"],
  ["o pokryciu", 5, 456, "#000"],
  ["> 7.9 okt.", 10, 468.5, "#000", null, null, [[135,468.5],[190,456]]],
  ["> 6.5 okt.", 10, 479.5, "#555", null, null, [[134,479.5],[142,474]]],
  ["> 4.5 okt.", 10, 490.5, "#999", null, null, [[134,490.5],[140,497]]],
  ["> 2.5 okt.", 10, 501.5, "#c8c8c8", null, null, [[134,501.5],[137,505]]],
  ["> 0.1 okt.", 10, 512, "#fff", null, SKY, [[136,512]]],
  ["Widzialność", 6, 525, "#ff8c00", null, null, [[128,525],[172,464]]],
  ["Chmury:", 6, 543.5, "#000"],
  ["wysokie", 10, 556.5, "#fff", null, SKY, [[186,556.5]]],
  ["średnie", 10, 569, "#aaa", null, null, [[193,567]]],
  ["niskie", 10, 581, "#444", null, null, [[133,581],[140,577]]],
  ["bardzo niskie", 10, 593.5, "#222", null, null, [[135,593.5],[143,598]]],
  ["Mgła", 6, 605, "#ffb000", null, null, [[216,605],[218,598]]],
  ["Czas uniwersalny (UTC)", 5, 622.5, "#000", null, null, [[150,622.5],[158,607]]]
];
var lineGen = d3.line();
legendText.forEach(function(d) {
  var t = text(d[0], d[1], d[2], { size: 11, color: d[3], anchor: d[4] || "start" });
  var b = t.node().getBBox();
  if (d[5]) {
    svg.insert("rect", function() { return t.node(); })
      .attr("x", b.x - 1).attr("y", b.y).attr("width", b.width + 2).attr("height", b.height).attr("fill", d[5]);
  }
  if (d[6]) {
    var sx = b.x + b.width + 3;
    if (d[5]) {
      [-1.5, 1.5].forEach(function(off) {
        var pts = [[sx, d[2] + off]].concat(d[6].map(function(p) { return [p[0], p[1] + off]; }));
        leaderG.append("path").attr("d", lineGen(pts)).attr("fill", "none").attr("stroke", d[5]).attr("stroke-width", 1.2);
      });
    } else {
      var pts = [[sx, d[2]]].concat(d[6]);
      leaderG.append("path").attr("d", lineGen(pts)).attr("fill", "none").attr("stroke", d[3]).attr("stroke-width", 1.2);
    }
  }
});
text("* powyżej poziomu morza", 5, 647, { size: 9.5, weight: "bold" });
</script>
</body>
</html>
